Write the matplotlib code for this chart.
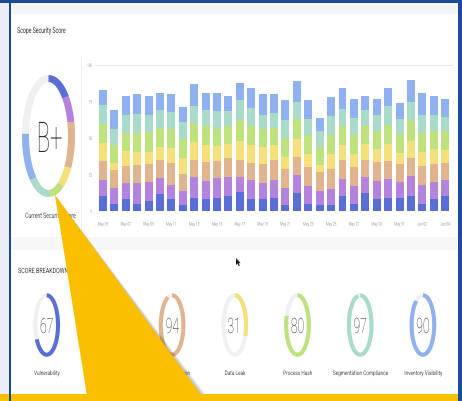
import numpy as np
import matplotlib
matplotlib.use("Agg")
import matplotlib.pyplot as plt
from matplotlib.patches import Rectangle, Polygon
from matplotlib.patheffects import AbstractPathEffect
from matplotlib.transforms import Affine2D, Bbox
from matplotlib.text import Text

W, H = 462, 401
FONT = ["Roboto", "DejaVu Sans"]

# ---------------- data ----------------
categories = ["Vulnerability", "Network Exposure", "Misconfiguration", "Data Leak",
              "Process Hash", "Segmentation Compliance", "Inventory Visibility"]
category_scores = [67, 72, 94, 31, 80, 97, 90]
overall_grade = "B+"
overall_share = [13.3, 7.8, 13.1, 6.9, 7.8, 12.8, 13.9]   # percent of the ring per category
palette = ["#5a6fd6", "#b483dd", "#e2b38f", "#f5e07a", "#bde27e", "#a8dbc9", "#8fb1ef"]

tick_labels = ["May 05", "May 07", "May 09", "May 11", "May 13", "May 15", "May 17",
               "May 19", "May 21", "May 23", "May 25", "May 27", "May 29", "May 31",
               "Jun 02", "Jun 04"]
y_ticks = [0, 25, 50, 75, 100]

vulnerability = [10.5, 4.5, 8.5, 4.5, 7, 11.5, 8, 4, 9, 8.5, 9, 10.5, 13, 8, 8.5, 9,
                 4, 12, 5, 4, 4, 10, 4.5, 12, 8.5, 9, 9, 10, 4.5, 8.5, 10]
network_exposure = [11, 11, 10.5, 14.5, 13, 11, 10, 10, 14, 12, 13.5, 13, 10, 13, 11, 12,
                    12, 13, 12, 10, 11, 12, 12.5, 11, 12, 13, 11, 14, 13, 11.5, 11]
misconfiguration = [13, 12.5, 12, 12.5, 12, 12.5, 15, 11.5, 12, 13, 12, 12.5, 12, 12, 13, 14,
                    13, 12, 13, 12.5, 14, 13, 13, 12, 13, 12, 12, 12, 13, 12.5, 12]
data_leak = [12, 5, 10, 9, 8.5, 9, 10, 10.5, 12, 11.5, 10, 10, 13, 12, 11, 10,
             8, 12, 9, 5, 10, 10, 9, 11, 9, 12, 8, 12, 10, 10, 9]
process_hash = [13, 12.5, 12.5, 13, 13.5, 13, 13, 13, 13, 13, 12, 12.5, 14, 13, 12.5, 12,
                13, 14, 13, 12.5, 13, 13, 13, 12, 12.5, 13, 13, 14, 13, 12.5, 12.5]
segmentation = [13, 10.5, 12, 13, 12, 12.5, 12, 12, 12, 11.5, 12, 10, 14, 12.5, 10, 10,
                12, 12, 11, 10.5, 13, 12, 12, 11, 11, 13, 10, 13, 12, 11, 10]
inventory = [10.5, 13, 13.5, 13.5, 13, 11.5, 12, 10, 15, 11.5, 12.5, 10.5, 12, 13.5, 14, 13,
             14, 14, 13, 9.5, 13, 14, 13, 10, 11, 12, 11, 15, 15.5, 13, 12.5]
series = [vulnerability, network_exposure, misconfiguration, data_leak,
          process_hash, segmentation, inventory]


def _anchor(x0, x1, ha):
    return {"left": x0, "center": 0.5 * (x0 + x1), "right": x1}[ha]


class Squeeze(AbstractPathEffect):
    """Draw text horizontally condensed around its left / centre / right edge."""

    def __init__(self, sx, ha="center"):
        super().__init__()
        self.sx, self.ha = sx, ha

    def draw_path(self, renderer, gc, tpath, affine, rgbFace=None):
        ext = tpath.get_extents(affine)
        cx = _anchor(ext.x0, ext.x1, self.ha)
        t = Affine2D(affine.get_matrix().copy()).translate(-cx, 0).scale(self.sx, 1).translate(cx, 0)
        renderer.draw_path(gc, tpath, t, rgbFace)


class CondensedText(Text):
    """Text drawn (and measured) with a horizontal squeeze factor."""

    def __init__(self, *args, sx=1.0, **kwargs):
        super().__init__(*args, **kwargs)
        self._sx = sx
        self.set_path_effects([Squeeze(sx, self.get_horizontalalignment())])

    def get_window_extent(self, renderer=None, dpi=None):
        bb = super().get_window_extent(renderer, dpi)
        c = _anchor(bb.x0, bb.x1, self.get_horizontalalignment())
        return Bbox.from_extents(c + (bb.x0 - c) * self._sx, bb.y0,
                                 c + (bb.x1 - c) * self._sx, bb.y1)


fig = plt.figure(figsize=(W / 100, H / 100), dpi=100)
fig.patch.set_facecolor("white")

bg = fig.add_axes([0, 0, 1, 1])
bg.set_xlim(0, W)
bg.set_ylim(H, 0)
bg.axis("off")


def rect(x, y, w, h, color, z=0):
    bg.add_patch(Rectangle((x, y), w, h, facecolor=color, edgecolor="none", zorder=z))


def text(x, y, s, size, color, sx, ha="center", weight="normal"):
    t = CondensedText(x, y, s, sx=sx, fontsize=size, color=color, ha=ha,
                      va="baseline", family=FONT, fontweight=weight, zorder=3)
    bg.add_artist(t)
    return t


# page frame
rect(0, 0, 9, H, "#e9eef7")
rect(10, 3, 448, 11, "#f4f5f7")
rect(10, 237, 448, 13, "#f6f7f9")
rect(0, 0, W, 3, "#1d4a96", z=12)
rect(8.5, 0, 2, H, "#1a4796", z=12)
rect(457.5, 0, 4.5, H, "#1d4b98", z=12)
rect(0, 394, W, 7, "#fbc100", z=11)
bg.plot([80.5, 80.5], [55, 230], color="#efefef", lw=0.6, zorder=1)

# headings
text(17, 33, "Scope Security Score", 5.8, "#333333", 0.64, ha="left")
text(25, 218, "Current Security Score", 5.4, "#555555", 0.68, ha="left")
text(18, 273, "SCORE BREAKDOWN", 5.2, "#3c3c3c", 0.74, ha="left")


def ring_arc(cx, cy, rx, ry, a0, a1, color, lw, z=2):
    t = np.radians(np.linspace(a0, a1, 120))
    bg.plot(cx + rx * np.sin(t), cy - ry * np.cos(t), color=color, lw=lw,
            solid_capstyle="butt", zorder=z)


# overall donut
bcx, bcy = 48.5, 136
ring_arc(bcx, bcy, 23, 57.5, 0, 360, "#f0f0f0", 5.0)
edges = np.concatenate([[0], np.cumsum(overall_share)]) * 3.6
for a0, a1, col in zip(edges[:-1], edges[1:], palette):
    ring_arc(bcx, bcy, 23, 57.5, a0, a1, col, 5.0)
text(49, 152, overall_grade, 30.5, "#2e2e2e", 0.52, weight="light")

# score breakdown donuts
for i, (name, score, col) in enumerate(zip(categories, category_scores, palette)):
    cx = 46.7 + 62.7 * i
    ring_arc(cx, 325, 11.3, 29.7, 0, 360, "#f1f1f1", 2.9)
    ring_arc(cx, 325, 11.3, 29.7, 0, score * 3.6, col, 2.9)
    text(cx, 333, str(score), 15.2, "#333333", 0.58, weight="light")
    text(cx, 375, name, 4.45, "#505050", 0.76)

# pointer
bg.add_patch(Polygon([(236, 258), (236, 265), (237.6, 263.6), (238.8, 266.2),
                      (239.8, 265.8), (238.7, 263.2), (240.6, 263.1)], closed=True,
                     facecolor="#1a1a1a", edgecolor="none", zorder=4))

# highlight wedge with soft shadow
apex, b_left, b_right = (55, 195), (87, 396), (202, 396)
for d in range(1, 6):
    bg.add_patch(Polygon([apex, (b_left[0] + d, 396), (b_right[0] + d, 396)],
                         closed=True, facecolor="#000000", alpha=0.05,
                         edgecolor="none", zorder=9))
bg.add_patch(Polygon([apex, b_left, b_right], closed=True, facecolor="#fcbf00",
                     edgecolor="none", zorder=10))

# stacked daily bars
ax = fig.add_axes([95 / W, 1 - 211 / H, (452 - 95) / W, (211 - 65) / H])
ax.patch.set_alpha(0)
idx = np.arange(len(vulnerability))
bottom = np.zeros(len(idx))
for vals, col in zip(series, palette):
    ax.bar(idx, vals, width=0.7, bottom=bottom, color=col, linewidth=0)
    bottom += np.asarray(vals)
ax.set_xlim(-0.7, 30.6)
ax.set_ylim(0, 100)
ax.axhline(100, color="#ebebeb", lw=0.8, clip_on=False, zorder=0)
ax.set_yticks(y_ticks)
ax.set_yticklabels([str(v) for v in y_ticks])
ax.set_xticks(idx[::2])
ax.set_xticklabels(tick_labels)
ax.tick_params(length=0, labelsize=3.5, labelcolor="#9c9c9c")
ax.tick_params(axis="x", pad=7.6)
ax.tick_params(axis="y", pad=2.0)
for s in ax.spines.values():
    s.set_visible(False)
for lbl in ax.get_xticklabels():
    lbl.set_family(FONT)
    lbl.set_path_effects([Squeeze(0.66, "center")])
for lbl in ax.get_yticklabels():
    lbl.set_family(FONT)
    lbl.set_path_effects([Squeeze(0.6, "right")])

fig.savefig("out.png", dpi=100, facecolor="white")
